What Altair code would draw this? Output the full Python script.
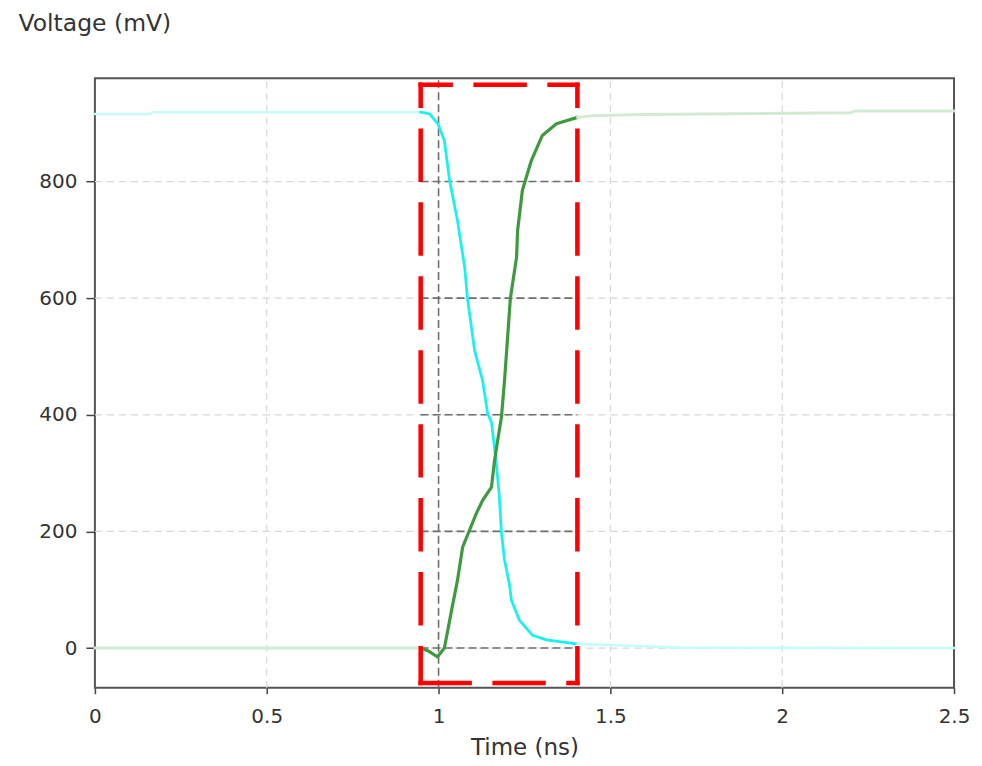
import altair as alt
import pandas as pd

# ---- data ----
x_ticks = [0, 0.5, 1, 1.5, 2, 2.5]
y_ticks = [0, 200, 400, 600, 800]
x_light_grid = [0.5, 1.5, 2]
x_dark_grid = [1]

win_t0, win_t1 = 0.948, 1.404      # highlighted window (ns)
win_v0, win_v1 = -60, 966          # highlighted window (mV)

cyan_t = [0, 0.16, 0.17, 0.948, 0.974, 0.998, 1.017, 1.032, 1.055, 1.076, 1.084, 1.105,
          1.128, 1.143, 1.154, 1.168, 1.177, 1.183, 1.192, 1.206, 1.212, 1.235, 1.273,
          1.314, 1.39, 1.404, 1.5, 1.6, 1.7, 2.5]
cyan_v = [916, 916, 919, 919, 916, 899, 870, 802, 733, 653, 600, 510,
          459, 402, 387, 317, 259, 197, 151, 110, 82, 48, 22,
          14, 8, 7, 5, 3, 1, 0]

green_t = [0, 0.948, 0.97, 0.997, 1.017, 1.038, 1.055, 1.07, 1.09, 1.11, 1.128, 1.154,
           1.163, 1.172, 1.183, 1.192, 1.209, 1.227, 1.23, 1.244, 1.27, 1.302, 1.343,
           1.404, 1.45, 1.6, 2.2, 2.21, 2.5]
green_v = [0, 0, -5, -15, 0, 65, 116, 173, 202, 231, 253, 276,
           322, 356, 396, 459, 600, 670, 716, 785, 836, 879, 899,
           910, 913, 915, 918, 921, 921]

# ---- build tables ----
rows = []
for name, ts, vs in [("cyan", cyan_t, cyan_v), ("green", green_t, green_v)]:
    for t, v in zip(ts, vs):
        if t <= win_t0:
            rows.append(dict(t=t, v=v, style=name + "-faded", seg=name + "-pre"))
        if win_t0 <= t <= win_t1:
            rows.append(dict(t=t, v=v, style=name + "-bold", seg=name + "-in"))
        if t >= win_t1:
            rows.append(dict(t=t, v=v, style=name + "-faded", seg=name + "-post"))
traces = pd.DataFrame(rows)

xdom = [0, 2.5]
ydom = [-68, 977]
xs = alt.Scale(domain=xdom, nice=False, zero=False)
ys = alt.Scale(domain=ydom, nice=False, zero=False)

FONT = "DejaVu Sans"
xaxis = alt.Axis(
    values=x_ticks, format="~g", grid=False, domain=False, ticks=True, tickSize=6,
    tickColor="#444", tickWidth=1.5, labelFontSize=20, labelFont=FONT, labelFlush=False,
    labelColor="#333", labelPadding=13, title="Time (ns)", titleFont=FONT,
    titleFontSize=23, titleFontWeight="normal", titleColor="#333",
    titleBaseline="middle", titleY=60)
yaxis = alt.Axis(
    values=y_ticks, grid=False, domain=False, ticks=True, tickSize=9,
    tickColor="#444", tickWidth=1.5, labelFontSize=20, labelFont=FONT,
    labelColor="#333", labelPadding=9, title="Voltage (mV)", titleFont=FONT,
    titleFontSize=23.5, titleFontWeight="normal", titleColor="#333", titleAngle=0,
    titleAlign="left", titleBaseline="middle", titleX=-77, titleY=-55)

hgrid = pd.DataFrame({"v": y_ticks, "t0": xdom[0], "t1": xdom[1], "w0": win_t0, "w1": win_t1})
vgrid_light = pd.DataFrame({"t": x_light_grid, "v0": ydom[0], "v1": ydom[1]})
vgrid_dark = pd.DataFrame({"t": x_dark_grid, "v0": ydom[0], "v1": ydom[1]})

light_h = alt.Chart(hgrid).mark_rule(color="#d8d8d8", strokeWidth=1.2, strokeDash=[7, 5]).encode(
    x=alt.X("t0:Q", scale=xs, axis=xaxis), x2="t1:Q", y=alt.Y("v:Q", scale=ys, axis=yaxis))
light_v = alt.Chart(vgrid_light).mark_rule(color="#d8d8d8", strokeWidth=1.2, strokeDash=[7, 5]).encode(
    x=alt.X("t:Q", scale=xs, axis=xaxis), y=alt.Y("v0:Q", scale=ys, axis=yaxis), y2="v1:Q")
dark_h = alt.Chart(hgrid).mark_rule(color="#6e6e6e", strokeWidth=1.6, strokeDash=[8, 4]).encode(
    x=alt.X("w0:Q", scale=xs, axis=xaxis), x2="w1:Q", y=alt.Y("v:Q", scale=ys, axis=yaxis))
dark_v = alt.Chart(vgrid_dark).mark_rule(color="#6e6e6e", strokeWidth=1.6, strokeDash=[8, 4]).encode(
    x=alt.X("t:Q", scale=xs, axis=xaxis), y=alt.Y("v0:Q", scale=ys, axis=yaxis), y2="v1:Q")

lines = alt.Chart(traces).mark_line(strokeJoin="round", strokeCap="round").encode(
    x=alt.X("t:Q", scale=xs, axis=xaxis),
    y=alt.Y("v:Q", scale=ys, axis=yaxis),
    color=alt.Color("style:N", legend=None, scale=alt.Scale(
        domain=["cyan-faded", "cyan-bold", "green-faded", "green-bold"],
        range=["#c4fbfb", "#19f0f0", "#d2ead2", "#3f9a3f"])),
    strokeWidth=alt.StrokeWidth("style:N", legend=None, scale=alt.Scale(
        domain=["cyan-faded", "cyan-bold", "green-faded", "green-bold"],
        range=[2.5, 3.2, 2.5, 3.2])),
    detail="seg:N",
    order="t:Q",
)

# red dashed window, drawn edge by edge so each side's dash phase matches
edges = pd.DataFrame({
    "a": [win_t0, win_t0, win_t0, win_t1],
    "b": [win_t1, win_t1, win_t0, win_t1],
    "c": [win_v1, win_v0, win_v1, win_v1],
    "d": [win_v1, win_v0, win_v0, win_v0],
})
box_style = dict(color="#ff0000", strokeWidth=4.5, strokeDash=[49, 25], strokeCap="square")
top_e = alt.Chart(edges.iloc[[0]]).mark_rule(strokeDashOffset=19, **box_style).encode(
    x=alt.X("a:Q", scale=xs, axis=xaxis), x2="b:Q", y=alt.Y("c:Q", scale=ys, axis=yaxis), y2="d:Q")
bot_e = alt.Chart(edges.iloc[[1]]).mark_rule(strokeDashOffset=0, **box_style).encode(
    x=alt.X("a:Q", scale=xs, axis=xaxis), x2="b:Q", y=alt.Y("c:Q", scale=ys, axis=yaxis), y2="d:Q")
side_e = alt.Chart(edges.iloc[[2, 3]]).mark_rule(strokeDashOffset=28, **box_style).encode(
    x=alt.X("a:Q", scale=xs, axis=xaxis), x2="b:Q", y=alt.Y("c:Q", scale=ys, axis=yaxis), y2="d:Q")

chart = alt.layer(light_h, light_v, dark_h, dark_v, lines, top_e, bot_e, side_e).properties(
    width=860, height=610,
    autosize=alt.AutoSizeParams(type="none"),
    padding={"left": 87, "top": 70, "right": 20, "bottom": 78},
).configure(background="white").configure_view(stroke="#555555", strokeWidth=2)

chart.save("out.html", embed_options={"renderer": "svg", "actions": False})
